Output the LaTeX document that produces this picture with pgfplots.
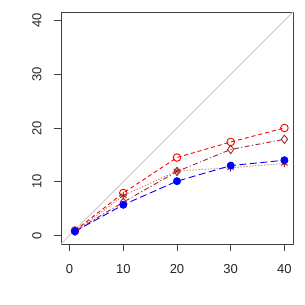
\documentclass[border=0pt]{standalone}
\usepackage{pgfplots}
\pgfplotsset{compat=1.18}
\usepackage{fontspec}
\setmainfont{Liberation Sans}
\usetikzlibrary{calc}
\definecolor{rbrown}{HTML}{A52A2A}
\definecolor{rbrownl}{HTML}{C06060}
\begin{document}
\begin{tikzpicture}
\begin{axis}[name=ax,
  scale only axis, width=232pt, height=232pt,
  xmin=-1.6, xmax=41.6, ymin=-1.6, ymax=41.6,
  xtick={0,10,20,30,40}, ytick={0,10,20,30,40},
  axis line style={black!75, line width=0.9pt},
  tick style={black!75, line width=0.7pt},
  tick align=outside, major tick length=7pt,
  xtick pos=bottom, ytick pos=left,
  /pgf/number format/assume math mode=true,
  tick label style={font=\fontsize{13}{14}\selectfont, black!85},
  yticklabel style={rotate=90, anchor=south, yshift=9pt},
  xticklabel style={yshift=-10pt},
  clip=false,
]
\addplot[gray!45, line width=0.9pt, forget plot] coordinates {(-1.6,-1.6) (41.6,41.6)};
\addplot[red, dash pattern=on 4pt off 3pt, line width=0.9pt, mark=o, mark size=3.8pt, mark options={solid}] coordinates {
(1,0.9) (10,7.9) (20,14.5) (30,17.4) (40,20)};
\addplot[rbrown, dash pattern=on 1pt off 2.5pt on 5pt off 2.5pt, line width=0.9pt, mark=diamond, mark size=4.2pt, mark options={solid}] coordinates {
(1,0.8) (10,6.2) (20,11.9) (30,16.0) (40,17.9)};
\addplot[rbrownl, dotted, line width=1pt, mark=asterisk, mark size=3.8pt, mark options={solid, rbrown}] coordinates {
(1,0.7) (10,7.4) (20,12.0) (30,12.6) (40,13.4)};
\addplot[blue, dash pattern=on 7pt off 3.5pt, line width=0.9pt, mark=*, mark size=3.5pt, mark options={solid}] coordinates {
(1,0.75) (10,5.7) (20,10.1) (30,13.0) (40,14.0)};
\end{axis}
\path ($(ax.south west)+(-61pt,-61pt)$) rectangle ($(ax.north east)+(12pt,12pt)$);
\end{tikzpicture}
\end{document}
